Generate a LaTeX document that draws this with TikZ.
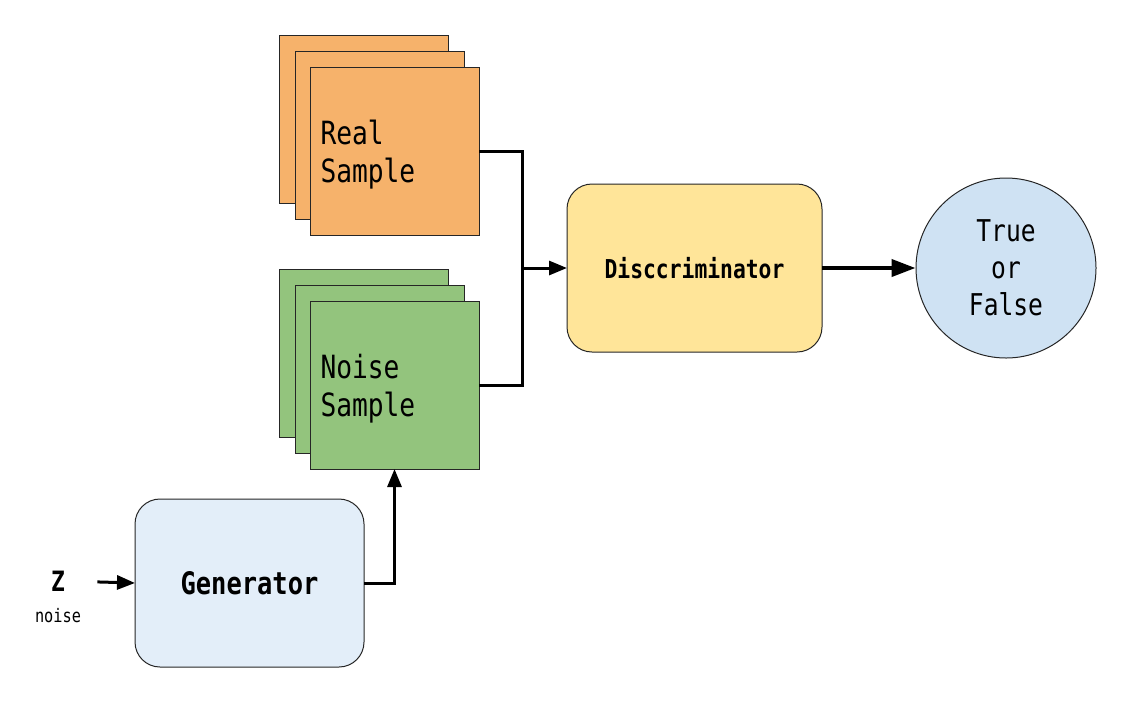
\documentclass[tikz,border=0pt]{standalone}
\usepackage{fontspec}
\setmainfont[FakeStretch=0.82]{DejaVu Sans Mono}
\usetikzlibrary{arrows.meta}

\definecolor{realFill}{HTML}{F6B26B}
\definecolor{noiseFill}{HTML}{93C47D}
\definecolor{discFill}{HTML}{FFE599}
\definecolor{genFill}{HTML}{E3EEF9}
\definecolor{outFill}{HTML}{CFE2F3}

\begin{document}
\begin{tikzpicture}[x=0.5pt, y=-0.5pt,
    sheetStyle/.style={rectangle, draw=black!85, line width=0.5pt, minimum width=84.5pt, minimum height=84pt, outer sep=0pt, anchor=north west},
    textSheet/.style={sheetStyle, inner xsep=5pt, text width=74pt, align=left, font=\fontsize{16}{19}\selectfont},
    blockStyle/.style={rectangle, rounded corners=12.5pt, draw=black!85, line width=0.5pt, minimum height=84pt, outer sep=0pt, font=\bfseries\fontsize{13}{16}\selectfont},
    arrowStyle/.style={-{Triangle[length=9pt, width=7pt]}, line width=1.5pt}]
    \useasboundingbox (0,0) rectangle (1128,708);

    % real samples
    \node[sheetStyle, fill=realFill] (real_0) at (279, 35) {};
    \node[sheetStyle, fill=realFill] (real_1) at (295, 51) {};
    \node[textSheet, fill=realFill]  (real_2) at (310, 67) {\rule{0pt}{16pt}Real\\Sample};

    % noise samples
    \node[sheetStyle, fill=noiseFill] (noise_0) at (279, 269) {};
    \node[sheetStyle, fill=noiseFill] (noise_1) at (295, 285) {};
    \node[textSheet, fill=noiseFill]  (noise_2) at (310, 301) {\rule{0pt}{16pt}Noise\\Sample};

    \node[blockStyle, fill=discFill, minimum width=127.5pt] (disc) at (694.5, 268) {Disccriminator};
    \node[circle, draw=black!85, line width=0.5pt, fill=outFill, minimum size=90pt, align=center, font=\fontsize{15}{18.5}\selectfont] (result) at (1006, 268) {True\\or\\False};

    \node[blockStyle, fill=genFill, minimum width=114.5pt, font=\bfseries\fontsize{15.5}{18}\selectfont] (gen) at (249.5, 583) {Generator};
    \node[font=\bfseries\fontsize{14}{16}\selectfont, inner sep=0pt] (z) at (58, 581) {Z};
    \node[font=\fontsize{9.3}{11}\selectfont, inner sep=0pt] (zNoise) at (58, 616) {noise};

    \coordinate (merge) at (522, 268);

    \draw[line width=1.5pt] (real_2.east) -| (merge);
    \draw[line width=1.5pt] (noise_2.east) -| (merge);
    \draw[arrowStyle] (merge) -- (disc.west);
    \draw[arrowStyle, line width=2pt, -{Triangle[length=12pt, width=8.5pt]}] (disc.east) -- (result.west);
    \draw[arrowStyle] (gen.east) -| (noise_2.south);
    \draw[arrowStyle, shorten <=16pt] (z.east) -- (gen.west);
\end{tikzpicture}
\end{document}
